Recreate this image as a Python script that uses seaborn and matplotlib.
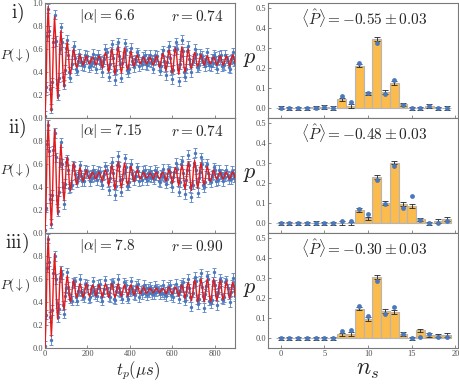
import numpy as np
import pandas as pd
import matplotlib
matplotlib.use("Agg")
import matplotlib.pyplot as plt
import seaborn as sns

# ---- time traces (t_p in us, sampled every 5 us) ----
t_us = np.arange(0, 905, 5)

fit_i = [0.00, 0.26, 0.74, 0.97, 0.73, 0.28,
         0.06, 0.29, 0.68, 0.88, 0.70, 0.33,
         0.17, 0.33, 0.63, 0.76, 0.63, 0.38,
         0.27, 0.39, 0.58, 0.66, 0.58, 0.42,
         0.38, 0.44, 0.55, 0.60, 0.55, 0.46,
         0.44, 0.47, 0.53, 0.55, 0.52, 0.48,
         0.46, 0.48, 0.52, 0.54, 0.52, 0.48,
         0.47, 0.49, 0.52, 0.53, 0.51, 0.48,
         0.46, 0.48, 0.52, 0.54, 0.52, 0.48,
         0.43, 0.47, 0.54, 0.57, 0.54, 0.46,
         0.40, 0.45, 0.55, 0.60, 0.55, 0.45,
         0.38, 0.44, 0.56, 0.62, 0.56, 0.44,
         0.39, 0.45, 0.56, 0.61, 0.55, 0.44,
         0.42, 0.46, 0.54, 0.58, 0.54, 0.46,
         0.45, 0.48, 0.53, 0.55, 0.52, 0.48,
         0.47, 0.49, 0.52, 0.53, 0.51, 0.48,
         0.47, 0.49, 0.52, 0.53, 0.51, 0.48,
         0.46, 0.48, 0.52, 0.54, 0.52, 0.48,
         0.44, 0.47, 0.53, 0.56, 0.53, 0.47,
         0.41, 0.46, 0.55, 0.59, 0.55, 0.45,
         0.39, 0.45, 0.56, 0.61, 0.55, 0.44,
         0.38, 0.44, 0.56, 0.62, 0.56, 0.44,
         0.40, 0.45, 0.55, 0.60, 0.55, 0.45,
         0.43, 0.47, 0.54, 0.57, 0.54, 0.46,
         0.45, 0.48, 0.53, 0.55, 0.52, 0.48,
         0.46, 0.48, 0.52, 0.54, 0.52, 0.48,
         0.47, 0.49, 0.52, 0.53, 0.51, 0.48,
         0.46, 0.48, 0.52, 0.54, 0.52, 0.48,
         0.46, 0.48, 0.52, 0.54, 0.52, 0.48,
         0.45, 0.48, 0.53, 0.55, 0.52, 0.48,
         0.45]

data_i = [0.02, 0.27, 0.71, 0.95, 0.76, 0.25,
          0.08, 0.31, 0.66, 0.90, 0.67, 0.30,
          0.20, 0.35, 0.60, 0.79, 0.66, 0.36,
          0.29, 0.42, 0.61, 0.68, 0.55, 0.40,
          0.35, 0.47, 0.58, 0.63, 0.52, 0.43,
          0.41, 0.50, 0.56, 0.52, 0.49, 0.46,
          0.49, 0.45, 0.55, 0.51, 0.54, 0.44,
          0.50, 0.46, 0.49, 0.56, 0.48, 0.52,
          0.43, 0.51, 0.55, 0.52, 0.47, 0.50,
          0.40, 0.49, 0.51, 0.60, 0.57, 0.43,
          0.36, 0.47, 0.58, 0.64, 0.52, 0.41,
          0.33, 0.42, 0.60, 0.66, 0.54, 0.47,
          0.35, 0.48, 0.53, 0.65, 0.59, 0.42,
          0.40, 0.43, 0.57, 0.61, 0.50, 0.48,
          0.44, 0.51, 0.50, 0.57, 0.55, 0.45,
          0.49, 0.47, 0.53, 0.50, 0.55, 0.47,
          0.46, 0.52, 0.49, 0.55, 0.48, 0.51,
          0.43, 0.50, 0.55, 0.51, 0.54, 0.46,
          0.41, 0.45, 0.56, 0.59, 0.50, 0.44,
          0.37, 0.49, 0.58, 0.63, 0.52, 0.41,
          0.34, 0.42, 0.59, 0.66, 0.60, 0.43,
          0.32, 0.47, 0.54, 0.68, 0.58, 0.40,
          0.36, 0.43, 0.58, 0.63, 0.51, 0.47,
          0.40, 0.50, 0.52, 0.60, 0.56, 0.44,
          0.44, 0.46, 0.56, 0.52, 0.54, 0.50,
          0.48, 0.45, 0.51, 0.57, 0.49, 0.46,
          0.45, 0.52, 0.48, 0.55, 0.53, 0.47,
          0.43, 0.50, 0.54, 0.51, 0.55, 0.45,
          0.47, 0.46, 0.55, 0.52, 0.50, 0.44,
          0.43, 0.51, 0.52, 0.57, 0.49, 0.50,
          0.47]

fit_ii = [0.00, 0.26, 0.74, 0.97, 0.74, 0.27,
          0.06, 0.30, 0.69, 0.90, 0.69, 0.32,
          0.16, 0.34, 0.64, 0.77, 0.63, 0.37,
          0.28, 0.40, 0.59, 0.66, 0.58, 0.42,
          0.37, 0.44, 0.56, 0.61, 0.55, 0.45,
          0.42, 0.46, 0.54, 0.57, 0.53, 0.47,
          0.45, 0.48, 0.53, 0.55, 0.52, 0.48,
          0.47, 0.49, 0.52, 0.53, 0.51, 0.48,
          0.47, 0.49, 0.52, 0.53, 0.51, 0.48,
          0.45, 0.48, 0.53, 0.55, 0.52, 0.48,
          0.41, 0.46, 0.55, 0.59, 0.55, 0.45,
          0.38, 0.44, 0.56, 0.62, 0.56, 0.44,
          0.39, 0.45, 0.56, 0.61, 0.55, 0.44,
          0.42, 0.46, 0.54, 0.58, 0.54, 0.46,
          0.45, 0.48, 0.53, 0.55, 0.52, 0.48,
          0.47, 0.49, 0.52, 0.53, 0.51, 0.48,
          0.48, 0.49, 0.51, 0.52, 0.51, 0.49,
          0.47, 0.49, 0.52, 0.53, 0.51, 0.48,
          0.47, 0.49, 0.52, 0.53, 0.51, 0.48,
          0.45, 0.48, 0.53, 0.55, 0.52, 0.48,
          0.43, 0.47, 0.54, 0.57, 0.54, 0.46,
          0.41, 0.46, 0.55, 0.59, 0.55, 0.45,
          0.38, 0.44, 0.56, 0.62, 0.56, 0.44,
          0.37, 0.44, 0.57, 0.63, 0.56, 0.43,
          0.39, 0.45, 0.56, 0.61, 0.55, 0.44,
          0.42, 0.46, 0.54, 0.58, 0.54, 0.46,
          0.45, 0.48, 0.53, 0.55, 0.52, 0.48,
          0.47, 0.49, 0.52, 0.53, 0.51, 0.48,
          0.47, 0.49, 0.52, 0.53, 0.51, 0.48,
          0.47, 0.49, 0.52, 0.53, 0.51, 0.48,
          0.47]

data_ii = [0.03, 0.22, 0.77, 0.94, 0.71, 0.30,
           0.08, 0.33, 0.72, 0.87, 0.66, 0.29,
           0.19, 0.36, 0.61, 0.79, 0.60, 0.40,
           0.25, 0.43, 0.62, 0.64, 0.55, 0.39,
           0.40, 0.42, 0.59, 0.58, 0.51, 0.47,
           0.44, 0.49, 0.51, 0.59, 0.50, 0.45,
           0.48, 0.45, 0.55, 0.52, 0.54, 0.50,
           0.45, 0.51, 0.48, 0.55, 0.49, 0.52,
           0.50, 0.46, 0.54, 0.51, 0.53, 0.45,
           0.42, 0.50, 0.51, 0.58, 0.55, 0.44,
           0.37, 0.48, 0.57, 0.62, 0.52, 0.42,
           0.33, 0.41, 0.59, 0.67, 0.58, 0.46,
           0.36, 0.47, 0.52, 0.65, 0.57, 0.41,
           0.41, 0.44, 0.57, 0.60, 0.51, 0.49,
           0.46, 0.50, 0.50, 0.57, 0.54, 0.45,
           0.49, 0.46, 0.54, 0.51, 0.55, 0.48,
           0.46, 0.52, 0.49, 0.54, 0.48, 0.51,
           0.48, 0.47, 0.55, 0.50, 0.53, 0.45,
           0.44, 0.51, 0.50, 0.56, 0.49, 0.48,
           0.43, 0.47, 0.56, 0.54, 0.53, 0.44,
           0.40, 0.49, 0.53, 0.61, 0.56, 0.45,
           0.36, 0.44, 0.60, 0.63, 0.52, 0.42,
           0.34, 0.46, 0.55, 0.68, 0.59, 0.40,
           0.31, 0.42, 0.61, 0.70, 0.55, 0.44,
           0.35, 0.48, 0.53, 0.66, 0.60, 0.42,
           0.40, 0.44, 0.58, 0.60, 0.52, 0.47,
           0.44, 0.50, 0.51, 0.57, 0.55, 0.45,
           0.48, 0.46, 0.55, 0.51, 0.52, 0.49,
           0.45, 0.51, 0.49, 0.55, 0.50, 0.47,
           0.49, 0.47, 0.54, 0.52, 0.48, 0.51,
           0.48]

fit_iii = [0.00, 0.26, 0.74, 0.97, 0.72, 0.30,
           0.10, 0.30, 0.62, 0.82, 0.64, 0.36,
           0.25, 0.37, 0.58, 0.70, 0.60, 0.40,
           0.33, 0.42, 0.56, 0.63, 0.56, 0.44,
           0.40, 0.45, 0.54, 0.59, 0.54, 0.46,
           0.44, 0.47, 0.53, 0.56, 0.53, 0.47,
           0.44, 0.47, 0.53, 0.56, 0.53, 0.47,
           0.45, 0.48, 0.53, 0.55, 0.52, 0.48,
           0.45, 0.48, 0.53, 0.55, 0.52, 0.48,
           0.44, 0.47, 0.53, 0.56, 0.53, 0.47,
           0.44, 0.47, 0.53, 0.56, 0.53, 0.47,
           0.44, 0.47, 0.53, 0.56, 0.53, 0.47,
           0.45, 0.48, 0.53, 0.55, 0.52, 0.48,
           0.45, 0.48, 0.53, 0.55, 0.52, 0.48,
           0.46, 0.48, 0.52, 0.54, 0.52, 0.48,
           0.47, 0.49, 0.52, 0.53, 0.51, 0.48,
           0.48, 0.49, 0.51, 0.52, 0.51, 0.49,
           0.48, 0.49, 0.51, 0.52, 0.51, 0.49,
           0.48, 0.49, 0.51, 0.52, 0.51, 0.49,
           0.47, 0.49, 0.52, 0.53, 0.51, 0.48,
           0.47, 0.49, 0.52, 0.53, 0.51, 0.48,
           0.45, 0.48, 0.53, 0.55, 0.52, 0.48,
           0.43, 0.47, 0.54, 0.57, 0.54, 0.46,
           0.41, 0.46, 0.55, 0.59, 0.55, 0.45,
           0.40, 0.45, 0.55, 0.60, 0.55, 0.45,
           0.40, 0.45, 0.55, 0.60, 0.55, 0.45,
           0.40, 0.45, 0.55, 0.60, 0.55, 0.45,
           0.41, 0.46, 0.55, 0.59, 0.55, 0.45,
           0.42, 0.46, 0.54, 0.58, 0.54, 0.46,
           0.43, 0.47, 0.54, 0.57, 0.54, 0.46,
           0.43]

data_iii = [0.02, 0.29, 0.70, 0.95, 0.75, 0.27,
            0.07, 0.33, 0.65, 0.80, 0.60, 0.39,
            0.27, 0.34, 0.61, 0.67, 0.64, 0.37,
            0.30, 0.45, 0.52, 0.66, 0.53, 0.47,
            0.43, 0.41, 0.57, 0.56, 0.58, 0.44,
            0.41, 0.50, 0.50, 0.60, 0.49, 0.46,
            0.47, 0.44, 0.56, 0.53, 0.55, 0.43,
            0.44, 0.51, 0.49, 0.58, 0.50, 0.47,
            0.48, 0.45, 0.55, 0.52, 0.56, 0.44,
            0.41, 0.48, 0.51, 0.59, 0.52, 0.49,
            0.45, 0.44, 0.56, 0.55, 0.57, 0.43,
            0.42, 0.50, 0.52, 0.60, 0.49, 0.48,
            0.46, 0.43, 0.57, 0.53, 0.55, 0.45,
            0.43, 0.51, 0.49, 0.58, 0.51, 0.50,
            0.47, 0.46, 0.54, 0.52, 0.56, 0.44,
            0.50, 0.47, 0.51, 0.55, 0.48, 0.52,
            0.46, 0.52, 0.48, 0.53, 0.51, 0.47,
            0.49, 0.47, 0.54, 0.49, 0.52, 0.50,
            0.47, 0.51, 0.48, 0.55, 0.47, 0.49,
            0.45, 0.49, 0.53, 0.51, 0.55, 0.46,
            0.48, 0.44, 0.52, 0.56, 0.49, 0.50,
            0.43, 0.50, 0.55, 0.53, 0.57, 0.45,
            0.41, 0.46, 0.53, 0.60, 0.52, 0.44,
            0.36, 0.48, 0.57, 0.62, 0.58, 0.42,
            0.38, 0.43, 0.59, 0.65, 0.53, 0.45,
            0.35, 0.47, 0.54, 0.63, 0.60, 0.41,
            0.39, 0.42, 0.58, 0.66, 0.55, 0.46,
            0.37, 0.48, 0.53, 0.60, 0.58, 0.43,
            0.42, 0.44, 0.57, 0.59, 0.52, 0.47,
            0.40, 0.49, 0.55, 0.61, 0.54, 0.45,
            0.47]

trace_err = 0.04

# ---- photon-number distributions ----
n_s = list(range(20))

p_exp_i = [0.004, 0.0, 0.0, 0.0, 0.005, 0.008, 0.003, 0.045, 0.013, 0.213,
           0.075, 0.347, 0.083, 0.125, 0.020, 0.0, 0.0, 0.013, 0.0, 0.003]
p_th_i = [0.002, 0.0, 0.0, 0.0, 0.003, 0.008, 0.003, 0.063, 0.033, 0.225,
          0.078, 0.325, 0.070, 0.142, 0.017, 0.0, 0.0, 0.012, 0.0, 0.0]

p_exp_ii = [0.0, 0.0, 0.0, 0.0, 0.003, 0.0, 0.0, 0.003, 0.0, 0.067,
            0.025, 0.230, 0.100, 0.303, 0.097, 0.087, 0.020, 0.0, 0.013, 0.023]
p_th_ii = [0.0, 0.0, 0.0, 0.0, 0.0, 0.0, 0.0, 0.012, 0.010, 0.070,
           0.045, 0.217, 0.095, 0.288, 0.078, 0.137, 0.017, 0.0, 0.0, 0.012]

p_exp_iii = [0.0, 0.0, 0.0, 0.0, 0.0, 0.0, 0.0, 0.020, 0.023, 0.148,
             0.098, 0.305, 0.135, 0.130, 0.022, 0.0, 0.040, 0.018, 0.015, 0.017]
p_th_iii = [0.0, 0.0, 0.0, 0.0, 0.0, 0.0, 0.0, 0.037, 0.040, 0.160,
            0.113, 0.287, 0.122, 0.155, 0.022, 0.0, 0.005, 0.023, 0.007, 0.007]

hist_err = 0.009

panel_tags = ["i)", "ii)", "iii)"]
alpha_txt = ["6.6", "7.15", "7.8"]
r_txt = ["0.74", "0.74", "0.90"]
parity_txt = ["-0.55", "-0.48", "-0.30"]

traces = [(fit_i, data_i), (fit_ii, data_ii), (fit_iii, data_iii)]
hists = [(p_exp_i, p_th_i), (p_exp_ii, p_th_ii), (p_exp_iii, p_th_iii)]

sns.set_style("ticks")
plt.rcParams["font.family"] = ["Liberation Serif", "DejaVu Serif"]
plt.rcParams["mathtext.fontset"] = "cm"

red = "#e3191c"
blue = "#4a78bd"
blue_err = "#6a8fca"
orange = "#fbbb4d"
frame = "#7a7a7a"
tick_col = "#4d4d4d"

fig = plt.figure(figsize=(4.6, 3.85), dpi=100)
bottoms = [0.6935, 0.3948, 0.0961]
h = 0.2987


def style_frame(ax):
    for sp in ax.spines.values():
        sp.set_color(frame)
        sp.set_linewidth(0.8)
        sp.set_visible(True)
    ax.tick_params(direction="in", length=2.2, width=0.6, color=frame,
                   labelsize=6, labelcolor=tick_col, pad=1.5)


for i in range(3):
    # left: time trace
    axl = fig.add_axes([0.0978, bottoms[i], 0.413, h])
    fit, dat = traces[i]
    df = pd.DataFrame({"t": t_us, "fit": fit, "data": dat})
    axl.errorbar(df["t"], df["data"], yerr=trace_err, fmt="none",
                 ecolor=blue_err, elinewidth=0.7, capsize=1.1, capthick=0.7,
                 zorder=1)
    sns.scatterplot(data=df, x="t", y="data", ax=axl, color=blue, s=6,
                    linewidth=0, zorder=2)
    sns.lineplot(data=df, x="t", y="fit", ax=axl, color=red, linewidth=1.0,
                 estimator=None, sort=False, zorder=3)
    axl.set_xlim(0, 895)
    axl.set_ylim(0, 1.0)
    axl.set_yticks([0, 0.2, 0.4, 0.6, 0.8, 1.0])
    top_lab = "1.0" if i == 0 else ""
    axl.set_yticklabels(["0.0", "0.2", "0.4", "0.6", "0.8", top_lab])
    axl.set_xticks([0, 200, 400, 600, 800])
    axl.set_xlabel("")
    axl.set_ylabel("")
    style_frame(axl)
    if i < 2:
        axl.tick_params(labelbottom=False)
    axl.text(-0.145, 0.905, r"$\mathrm{" + panel_tags[i] + "}$",
             transform=axl.transAxes, ha="center", va="center", fontsize=14)
    axl.text(-0.155, 0.55, r"$P(\downarrow)$", transform=axl.transAxes,
             ha="center", va="center", fontsize=9.5)
    axl.text(0.18, 0.885, r"$|\alpha| = " + alpha_txt[i] + "$",
             transform=axl.transAxes, ha="left", va="center", fontsize=11)
    axl.text(0.94, 0.885, r"$r = " + r_txt[i] + "$",
             transform=axl.transAxes, ha="right", va="center", fontsize=11)

    # right: number distribution
    axr = fig.add_axes([0.5826, bottoms[i], 0.413, h])
    pe, pt = hists[i]
    dh = pd.DataFrame({"n": n_s, "p_exp": pe, "p_th": pt})
    sns.barplot(data=dh, x="n", y="p_exp", ax=axr, native_scale=True,
                width=1.0, color=orange, saturation=1, edgecolor="#b5b5b5",
                linewidth=0.8, errorbar=None, zorder=1)
    axr.errorbar(dh["n"], dh["p_exp"], yerr=hist_err, fmt="none",
                 ecolor="#222222", elinewidth=0.6, capsize=2.0, capthick=0.6,
                 zorder=2)
    sns.scatterplot(data=dh, x="n", y="p_th", ax=axr, color=blue, s=12,
                    linewidth=0, zorder=3)
    axr.set_xlim(-1.45, 20.3)
    axr.set_ylim(-0.048, 0.525)
    axr.set_xticks([0, 5, 10, 15, 20])
    axr.set_xticklabels(["0", "5", "10", "15", "20"])
    axr.set_yticks([0, 0.1, 0.2, 0.3, 0.4, 0.5])
    axr.set_yticklabels(["0.0", "0.1", "0.2", "0.3", "0.4", "0.5"])
    axr.set_xlabel("")
    axr.set_ylabel("")
    style_frame(axr)
    if i < 2:
        axr.tick_params(labelbottom=False)
    axr.text(-0.095, 0.51, r"$p$", transform=axr.transAxes, ha="center",
             va="center", fontsize=16)
    axr.text(0.505, 0.86,
             r"$\langle \hat{P} \rangle = " + parity_txt[i] + r" \pm 0.03$",
             transform=axr.transAxes, ha="center", va="center", fontsize=11)

fig.text(0.30, 0.038, r"$t_p(\mu s)$", ha="center", va="center", fontsize=12)
fig.text(0.80, 0.038, r"$n_s$", ha="center", va="center", fontsize=17)

fig.savefig("out.png", dpi=100)
